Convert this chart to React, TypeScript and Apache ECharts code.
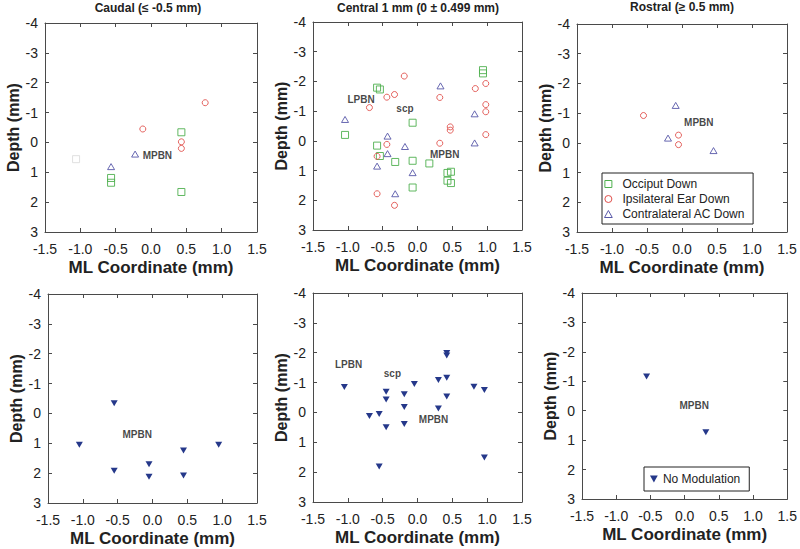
import React, { useEffect, useRef } from 'react';
import * as echarts from 'echarts';

// ---------- data ----------
const panelTitles = ['Caudal (≤ -0.5 mm)', 'Central 1 mm (0 ± 0.499 mm)', 'Rostral (≥ 0.5 mm)'];
const xAxisName = 'ML Coordinate (mm)';
const yAxisName = 'Depth (mm)';
const legendNames = ['Occiput Down', 'Ipsilateral Ear Down', 'Contralateral AC Down'];
const noModName = 'No Modulation';

// Caudal (top-left)
const caudalOcciput = [[-0.565, 1.19], [-0.565, 1.35], [0.43, -0.34], [0.43, 1.66]];
const caudalOcciputFaint = [[-1.06, 0.56]];
const caudalIpsi = [[-0.116, -0.45], [0.767, -1.33], [0.43, -0.02], [0.43, 0.2]];
const caudalContra = [[-0.225, 0.39], [-0.565, 0.81]];

// Central (top-middle)
const centralOcciput = [
  [-1.04, -0.2], [-0.58, -1.79], [-0.54, -1.73], [-0.07, -0.61], [-0.58, 0.16], [-0.54, 0.51],
  [-0.32, 0.71], [-0.07, 0.67], [0.17, 0.76], [-0.07, 1.57], [0.43, 1.08], [0.48, 1.04],
  [0.43, 1.34], [0.48, 1.42], [0.94, -2.38], [0.94, -2.27],
];
const centralIpsi = [
  [-0.19, -2.18], [0.83, -1.76], [0.98, -1.93], [-0.44, -1.47], [-0.33, -1.56], [0.32, -1.46],
  [-0.69, -1.12], [0.98, -1.22], [0.98, -0.98], [0.47, -0.47], [0.47, -0.36], [0.98, -0.21],
  [0.32, 0.08], [-0.44, 0.12], [-0.58, 0.52], [-0.58, 1.78], [-0.33, 2.17],
];
const centralContra = [
  [-1.04, -0.72], [0.33, -1.85], [0.82, -0.91], [0.82, 0.07], [-0.43, -0.16], [-0.18, 0.19],
  [-0.43, 0.43], [-0.58, 0.85], [-0.07, 1.07], [-0.32, 1.78],
];

// Rostral (top-right)
const rostralIpsi = [[-0.55, -0.92], [-0.05, -0.26], [-0.05, 0.06]];
const rostralContra = [[-0.09, -1.26], [-0.2, -0.16], [0.45, 0.26]];

// No modulation (bottom row)
const caudalNoMod = [
  [-0.55, -0.34], [-1.05, 1.05], [-0.55, 1.92], [-0.05, 1.7], [-0.05, 2.12], [0.445, 1.24],
  [0.445, 2.08], [0.95, 1.05],
];
const centralNoMod = [
  [-1.05, -0.85], [0.42, -1.99], [0.42, -1.91], [0.3, -1.09], [0.42, -1.16], [-0.045, -0.95],
  [0.81, -0.86], [0.96, -0.75], [-0.45, -0.69], [-0.45, -0.43], [-0.19, -0.61], [-0.19, -0.18],
  [0.42, -0.53], [0.3, -0.13], [-0.69, 0.12], [-0.55, 0.05], [-0.45, 0.5], [-0.19, 0.39],
  [-0.55, 1.81], [0.96, 1.51],
];
const rostralNoMod = [[-0.556, -1.16], [0.31, 0.73]];

// Region annotations (text placed at data coordinates)
const caudalRegions = [{ name: 'MPBN', x: 0.09, y: 0.43 }];
const centralRegions = [
  { name: 'LPBN', x: -0.81, y: -1.39 },
  { name: 'scp', x: -0.18, y: -1.08 },
  { name: 'MPBN', x: 0.39, y: 0.45 },
];
const rostralRegions = [{ name: 'MPBN', x: 0.24, y: -0.7 }];
const caudalRegions2 = [{ name: 'MPBN', x: -0.22, y: 0.72 }];
const centralRegions2 = [
  { name: 'LPBN', x: -0.99, y: -1.59 },
  { name: 'scp', x: -0.36, y: -1.29 },
  { name: 'MPBN', x: 0.23, y: 0.23 },
];
const rostralRegions2 = [{ name: 'MPBN', x: 0.14, y: -0.18 }];

// ---------- layout / style ----------
const FONT = '"Liberation Sans", Arial, Helvetica, sans-serif';
const GREEN = '#4fb04f';
const RED = '#e0504c';
const BLUE = '#5858a8';
const NAVY = '#25388a';
const FAINT = '#dcdcdc';
const AXIS = '#4a4a4a';
const DOWN_TRI = 'path://M0,0L10,0L5,9Z';
const ICON_SQ = 'path://M0,0H10V10H0Z';
const ICON_CIRC = 'path://M5,0A5,5 0 1,1 5,10A5,5 0 1,1 5,0Z';
const ICON_TRI = 'path://M5,0L10,9L0,9Z';
const legendIcons = [ICON_SQ, ICON_CIRC, ICON_TRI];

const grids = [
  { left: 45, top: 23, width: 212, height: 209 },
  { left: 313, top: 22, width: 209, height: 208 },
  { left: 577, top: 24, width: 210, height: 208 },
  { left: 48, top: 294, width: 209, height: 209 },
  { left: 313, top: 293, width: 209, height: 209 },
  { left: 582, top: 293, width: 208, height: 206 },
];
const titlePos = [
  { x: 148, y: 8 },
  { x: 418, y: 8 },
  { x: 682, y: 7 },
];

function xAxis(gi: number, pos: 'bottom' | 'top') {
  const main = pos === 'bottom';
  return {
    type: 'value',
    gridIndex: gi,
    position: pos,
    min: -1.5,
    max: 1.5,
    interval: 0.5,
    axisLine: { show: true, onZero: false, lineStyle: { color: AXIS, width: 1 } },
    axisTick: { show: true, inside: true, length: 4, lineStyle: { color: AXIS } },
    axisLabel: {
      show: main,
      formatter: (v: number) => v.toFixed(1),
      fontSize: 14,
      color: '#222',
      margin: 10,
      fontFamily: FONT,
    },
    splitLine: { show: false },
    name: main ? xAxisName : '',
    nameLocation: 'middle',
    nameGap: 27,
    nameTextStyle: { fontSize: 17, fontWeight: 'bold', color: '#222', fontFamily: FONT },
  };
}

function yAxis(gi: number, pos: 'left' | 'right') {
  const main = pos === 'left';
  return {
    type: 'value',
    gridIndex: gi,
    position: pos,
    inverse: true,
    min: -4,
    max: 3,
    interval: 1,
    axisLine: { show: true, onZero: false, lineStyle: { color: AXIS, width: 1 } },
    axisTick: { show: true, inside: true, length: 4, lineStyle: { color: AXIS } },
    axisLabel: {
      show: main,
      fontSize: 14,
      color: '#222',
      margin: 7,
      fontFamily: FONT,
    },
    splitLine: { show: false },
    name: main ? yAxisName : '',
    nameLocation: 'middle',
    nameRotate: 90,
    nameGap: 24,
    nameTextStyle: { fontSize: 16, fontWeight: 'bold', color: '#222', fontFamily: FONT },
  };
}

type Kind = 'sq' | 'circ' | 'tri' | 'down';

function markerSeries(name: string, data: number[][], panel: number, kind: Kind, color: string) {
  const base: any = {
    type: 'scatter',
    name,
    xAxisIndex: panel * 2,
    yAxisIndex: panel * 2,
    data,
    silent: true,
    z: 3,
  };
  if (kind === 'down') {
    base.symbol = DOWN_TRI;
    base.symbolSize = [7, 6];
    base.itemStyle = { color, borderWidth: 0, opacity: 1 };
  } else {
    base.symbol = kind === 'sq' ? 'rect' : kind === 'circ' ? 'circle' : 'triangle';
    base.symbolSize = kind === 'sq' ? 7 : kind === 'circ' ? 6 : [7, 6];
    base.itemStyle = { color: 'rgba(255,255,255,0)', borderColor: color, borderWidth: 0.9, opacity: 1 };
  }
  return base;
}

function labelSeries(regions: { name: string; x: number; y: number }[], panel: number) {
  return {
    type: 'scatter',
    name: 'regions' + panel,
    xAxisIndex: panel * 2,
    yAxisIndex: panel * 2,
    symbolSize: 0,
    silent: true,
    z: 4,
    data: regions.map((r) => ({ name: r.name, value: [r.x, r.y] })),
    label: {
      show: true,
      position: 'inside',
      formatter: '{b}',
      fontSize: 10,
      fontWeight: 'bold',
      color: '#151515',
      fontFamily: FONT,
    },
  };
}

export default function App() {
  const ref = useRef<HTMLDivElement>(null);

  useEffect(() => {
    if (!ref.current) return;
    const chart = echarts.init(ref.current, undefined, { renderer: 'svg' });

    const xAxes: any[] = [];
    const yAxes: any[] = [];
    grids.forEach((_, i) => {
      xAxes.push(xAxis(i, 'bottom'), xAxis(i, 'top'));
      yAxes.push(yAxis(i, 'left'), yAxis(i, 'right'));
    });

    const series: any[] = [
      markerSeries(legendNames[0], caudalOcciput, 0, 'sq', GREEN),
      markerSeries('Occiput Down (faint)', caudalOcciputFaint, 0, 'sq', FAINT),
      markerSeries(legendNames[1], caudalIpsi, 0, 'circ', RED),
      markerSeries(legendNames[2], caudalContra, 0, 'tri', BLUE),
      markerSeries(legendNames[0], centralOcciput, 1, 'sq', GREEN),
      markerSeries(legendNames[1], centralIpsi, 1, 'circ', RED),
      markerSeries(legendNames[2], centralContra, 1, 'tri', BLUE),
      markerSeries(legendNames[1], rostralIpsi, 2, 'circ', RED),
      markerSeries(legendNames[2], rostralContra, 2, 'tri', BLUE),
      markerSeries(noModName, caudalNoMod, 3, 'down', NAVY),
      markerSeries(noModName, centralNoMod, 4, 'down', NAVY),
      markerSeries(noModName, rostralNoMod, 5, 'down', NAVY),
      labelSeries(caudalRegions, 0),
      labelSeries(centralRegions, 1),
      labelSeries(rostralRegions, 2),
      labelSeries(caudalRegions2, 3),
      labelSeries(centralRegions2, 4),
      labelSeries(rostralRegions2, 5),
    ];

    const option: any = {
      animation: false,
      backgroundColor: '#fff',
      grid: grids.map((g) => ({ ...g, containLabel: false })),
      xAxis: xAxes,
      yAxis: yAxes,
      series,
      legend: [
        {
          data: legendNames.map((n, i) => ({ name: n, icon: legendIcons[i] })),
          orient: 'vertical',
          left: 602,
          top: 173,
          itemWidth: 18,
          itemHeight: 7,
          itemGap: 3,
          symbolKeepAspect: true,
          padding: [5, 8, 4, 2],
          borderColor: '#222',
          borderWidth: 1,
          backgroundColor: '#fff',
          selectedMode: false,
          itemStyle: { borderWidth: 1 },
          textStyle: { fontSize: 12, color: '#222', fontFamily: FONT, lineHeight: 12 },
        },
        {
          data: [{ name: noModName, icon: DOWN_TRI }],
          orient: 'vertical',
          left: 644,
          top: 467,
          itemWidth: 8,
          itemHeight: 7,
          padding: [6, 9, 6, 6],
          borderColor: '#222',
          borderWidth: 1,
          backgroundColor: '#fff',
          selectedMode: false,
          textStyle: { fontSize: 12, color: '#222', fontFamily: FONT },
        },
      ],
      graphic: panelTitles.map((t, i) => ({
        type: 'text',
        x: titlePos[i].x,
        y: titlePos[i].y,
        silent: true,
        style: {
          text: t,
          fill: '#222',
          fontSize: 12,
          fontWeight: 'bold',
          fontFamily: FONT,
          align: 'center',
          verticalAlign: 'middle',
          textAlign: 'center',
          textVerticalAlign: 'middle',
        },
      })),
    };

    chart.setOption(option);
    return () => chart.dispose();
  }, []);

  return (
    <div
      ref={ref}
      style={{ position: 'fixed', left: 0, top: 0, width: 800, height: 549, background: '#fff' }}
    />
  );
}
